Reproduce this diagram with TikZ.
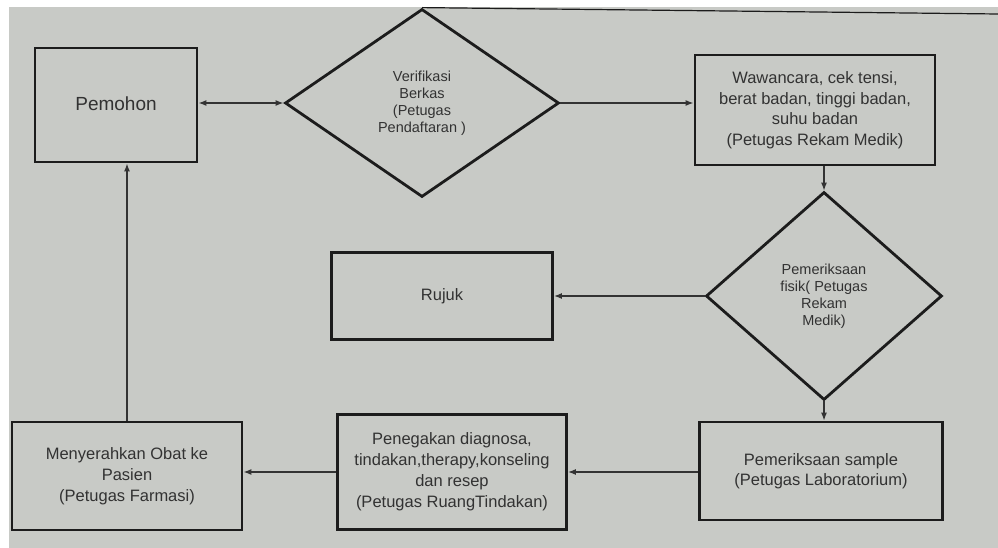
\documentclass[tikz,border=0pt]{standalone}
\usepackage{fontspec}
\setmainfont{Liberation Sans}
\usetikzlibrary{shapes.geometric,arrows.meta}
\definecolor{paper}{RGB}{200,202,198}
\definecolor{ink}{RGB}{28,28,28}
\definecolor{txtc}{RGB}{50,50,50}
\tikzset{
  box/.style={draw=ink,line width=2.8pt,fill=paper,rectangle,inner sep=0pt,align=center,text=txtc},
  dec/.style={draw=ink,line width=2.8pt,fill=paper,diamond,inner sep=0pt,align=center,text=txtc,font=\fontsize{14.5}{17}\selectfont},
  conn/.style={draw=ink!90,line width=1.3pt,-{Latex[length=8pt,width=6pt]}},
  conn2/.style={draw=ink!90,line width=1.3pt,{Latex[length=8pt,width=6pt]}-{Latex[length=8pt,width=6pt]}},
  txt/.style={font=\fontsize{16.5}{21}\selectfont}
}
\begin{document}
\begin{tikzpicture}[x=1pt,y=-1pt]
\useasboundingbox (0,0) rectangle (998,548);
\fill[white] (0,0) rectangle (998,548);
\fill[paper] (9,7) rectangle (998,548);
% boxes
\node[box,font=\fontsize{19}{23}\selectfont,minimum width=162pt,minimum height=114pt] (pem) at (116,105) {\raisebox{3pt}{Pemohon}};
\node[dec,minimum width=274pt,minimum height=188pt] (ver) at (422,103) {\parbox{110pt}{\centering Verifikasi\\Berkas\\(Petugas\\Pendaftaran )}};
\node[box,font=\fontsize{16.5}{20.5}\selectfont,minimum width=240pt,minimum height=110pt] (waw) at (815,110) {Wawancara, cek tensi,\\berat badan, tinggi badan,\\suhu badan\\(Petugas Rekam Medik)};
\node[dec,minimum width=236pt,minimum height=208pt] (fis) at (824,296) {\raisebox{12pt}{\parbox{110pt}{\centering Pemeriksaan\\fisik( Petugas\\Rekam\\Medik)}}};
\node[box,txt,minimum width=221pt,minimum height=87pt] (ruj) at (442,296) {Rujuk};
\node[box,minimum width=243pt,minimum height=98pt] (sam) at (821,471) {\raisebox{-4pt}{\parbox{230pt}{\fontsize{16.5}{20}\selectfont\centering Pemeriksaan sample\\(Petugas Laboratorium)}}};
\node[box,minimum width=229pt,minimum height=115pt] (pen) at (452,472) {\raisebox{-9pt}{\parbox{226pt}{\fontsize{16.5}{21}\selectfont\centering Penegakan diagnosa,\\tindakan,therapy,konseling\\dan resep\\(Petugas RuangTindakan)}}};
\node[box,txt,minimum width=230pt,minimum height=108pt] (men) at (127,476) {Menyerahkan Obat ke\\Pasien\\(Petugas Farmasi)};
% top edge line
\draw[ink,line width=1.2pt] (ver.north) -- (998,14);
% connectors
\draw[conn2] (pem.east |- ver.west) -- (ver.west);
\draw[conn] (ver.east) -- (ver.east -| waw.west);
\draw[conn] (fis.north |- waw.south) -- (fis.north);
\draw[conn] (fis.west) -- (fis.west -| ruj.east);
\draw[conn] (fis.south) -- (fis.south |- sam.north);
\draw[conn] (sam.west |- pen.east) -- (pen.east);
\draw[conn] (pen.west) -- (pen.west -| men.east);
\draw[conn] (men.north -| 127,0) -- (pem.south -| 127,0);
\end{tikzpicture}
\end{document}
